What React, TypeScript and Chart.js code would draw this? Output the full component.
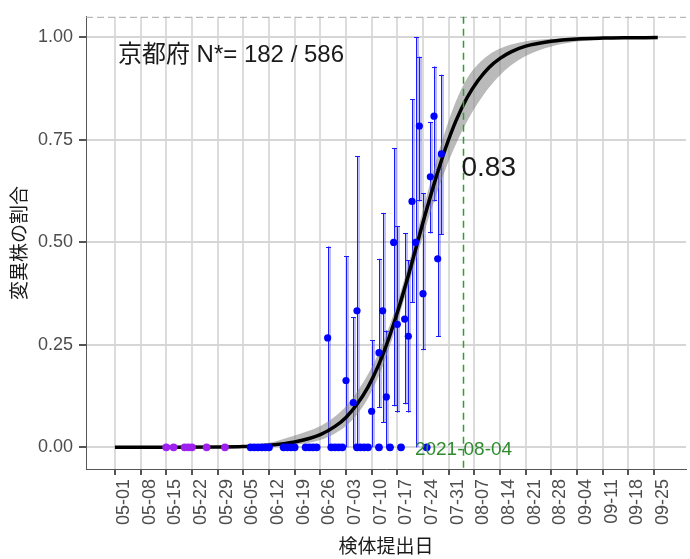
import React, { useEffect, useRef } from 'react';
import { Chart, registerables } from 'chart.js';
Chart.register(...registerables);

const FAMILY = "'Liberation Sans', Arial, 'Noto Sans CJK JP', sans-serif";

// x tick labels (weekly from 05-01, day index = position * 7)
const tickLabels = ['05-01','05-08','05-15','05-22','05-29','06-05','06-12','06-19','06-26','07-03','07-10','07-17','07-24','07-31','08-07','08-14','08-21','08-28','09-04','09-11','09-18','09-25'];
const yTicks = [0, 0.25, 0.5, 0.75, 1];
const yTickLabels = ['0.00', '0.25', '0.50', '0.75', '1.00'];

// fitted curve (days since 05-01) with confidence ribbon
const curveDays = [0,14,28,35,42,49,56,60,63,66,69,72,75,78,81,84,87,90,93,96,99,102,105,108,112,119,126,133,140,148];
const curveVals = [0,0.0001,0.0008,0.002,0.005,0.013,0.031,0.051,0.073,0.105,0.147,0.203,0.274,0.358,0.451,0.549,0.642,0.726,0.797,0.853,0.895,0.927,0.949,0.965,0.979,0.991,0.9965,0.9986,0.9994,0.9998];
const ciLow = [0,0,0.0002,0.0006,0.002,0.006,0.018,0.034,0.052,0.080,0.120,0.175,0.248,0.335,0.425,0.515,0.600,0.675,0.740,0.795,0.840,0.878,0.908,0.932,0.955,0.978,0.990,0.996,0.998,0.999];
const ciHigh = [0,0.0003,0.002,0.005,0.011,0.029,0.052,0.075,0.100,0.135,0.178,0.232,0.300,0.382,0.477,0.580,0.680,0.770,0.845,0.900,0.935,0.958,0.973,0.983,0.991,0.997,0.999,1,1,1];

// observed proportions with intervals
const obsDays = [58, 63, 65, 66, 70, 72, 73, 74, 76, 77, 79, 80, 81, 82, 83, 84, 86, 87, 88, 89];
const obsVals = [0.267, 0.163, 0.109, 0.333, 0.088, 0.231, 0.333, 0.123, 0.5, 0.3, 0.313, 0.271, 0.6, 0.5, 0.784, 0.375, 0.66, 0.808, 0.46, 0.716];
const obsLow = [0, 0, 0, 0, 0, 0.097, 0.06, 0, 0.1, 0.085, 0.105, 0.085, 0.353, 0, 0.6, 0.237, 0.522, 0.6, 0.269, 0.519];
const obsHigh = [0.49, 0.466, 0.317, 0.71, 0.261, 0.46, 0.572, 0.285, 0.73, 0.54, 0.523, 0.457, 0.85, 1.0, 0.953, 0.62, 0.794, 0.929, 0.68, 0.909];

// zero-proportion days
const zeroBlueDays = [37,38,39,40,41,42,46,47,48,49,52,53,54,55,59,60,61,62,66,67,68,69,72,75,78,85];
const zeroPurpleDays = [14,16,19,20,21,25,30];

const markerDay = 95;
const markerLabel = '2021-08-04';
const markerValue = '0.83';
const titleText = '京都府 N*= 182 / 586';

const errorBarPlugin = {
  id: 'errbars',
  beforeDatasetsDraw(chart: any) {
    const { ctx, scales: { x, y } } = chart;
    ctx.save();
    obsDays.forEach((d, i) => {
      const px = Math.round(x.getPixelForValue(d));
      const pl = y.getPixelForValue(obsLow[i]);
      const ph = y.getPixelForValue(obsHigh[i]);
      ctx.strokeStyle = 'rgba(40,40,255,0.3)';
      ctx.lineWidth = 3;
      ctx.beginPath();
      ctx.moveTo(px + 1.5, pl);
      ctx.lineTo(px + 1.5, ph);
      ctx.stroke();
      ctx.strokeStyle = '#1a1aff';
      ctx.lineWidth = 1;
      ctx.beginPath();
      ctx.moveTo(px + 0.5, pl);
      ctx.lineTo(px + 0.5, ph);
      ctx.moveTo(px - 2, Math.round(ph) + 0.5);
      ctx.lineTo(px + 3, Math.round(ph) + 0.5);
      if (obsLow[i] > 0) {
        ctx.moveTo(px - 2, Math.round(pl) - 0.5);
        ctx.lineTo(px + 3, Math.round(pl) - 0.5);
      }
      ctx.stroke();
    });
    ctx.restore();
  },
};

const annotPlugin = {
  id: 'annot',
  afterDatasetsDraw(chart: any) {
    const { ctx, chartArea: ca, scales: { x, y } } = chart;
    ctx.save();
    ctx.strokeStyle = '#a8a8a8';
    ctx.lineWidth = 1;
    ctx.setLineDash([7, 4]);
    ctx.beginPath();
    ctx.moveTo(ca.left, ca.top + 0.5);
    ctx.lineTo(ca.right, ca.top + 0.5);
    ctx.stroke();

    const gx = Math.round(x.getPixelForValue(markerDay)) + 0.5;
    ctx.strokeStyle = '#2f9e2f';
    ctx.lineWidth = 1.5;
    ctx.setLineDash([7, 5]);
    ctx.beginPath();
    ctx.moveTo(gx, ca.top);
    ctx.lineTo(gx, ca.bottom);
    ctx.stroke();
    ctx.setLineDash([]);

    ctx.fillStyle = '#1a1a1a';
    ctx.textAlign = 'left';
    ctx.textBaseline = 'middle';
    ctx.font = `24px ${FAMILY}`;
    ctx.fillText(titleText, x.getPixelForValue(0) + 3, y.getPixelForValue(0.957));

    ctx.font = `28px ${FAMILY}`;
    ctx.fillText(markerValue, gx - 2, y.getPixelForValue(0.68));

    ctx.fillStyle = '#2e8b2e';
    ctx.textAlign = 'center';
    ctx.font = `19px ${FAMILY}`;
    ctx.fillText(markerLabel, gx, y.getPixelForValue(-0.005));
    ctx.restore();
  },
};

export default function App() {
  const ref = useRef<HTMLCanvasElement | null>(null);
  useEffect(() => {
    if (!ref.current) return;
    const chart = new Chart(ref.current, {
      type: 'line',
      data: {
        datasets: [
          {
            type: 'scatter',
            data: obsDays.map((d, i) => ({ x: d, y: obsVals[i] })),
            backgroundColor: '#0000ff',
            borderWidth: 0,
            pointRadius: 3.6,
            order: 0,
          } as any,
          {
            type: 'scatter',
            data: zeroBlueDays.map((d) => ({ x: d, y: 0 })),
            backgroundColor: '#0000ff',
            borderWidth: 0,
            pointRadius: 3.9,
            order: 0,
          } as any,
          {
            type: 'scatter',
            data: zeroPurpleDays.map((d) => ({ x: d, y: 0 })),
            backgroundColor: '#a020f0',
            borderWidth: 0,
            pointRadius: 3.9,
            order: 0,
          } as any,
          {
            type: 'line',
            data: curveDays.map((d, i) => ({ x: d, y: curveVals[i] })),
            borderColor: '#000000',
            borderWidth: 3.5,
            pointRadius: 0,
            cubicInterpolationMode: 'monotone',
            fill: false,
            order: 1,
          } as any,
          {
            type: 'line',
            data: curveDays.map((d, i) => ({ x: d, y: ciHigh[i] })),
            borderWidth: 0,
            borderColor: 'rgba(0,0,0,0)',
            pointRadius: 0,
            cubicInterpolationMode: 'monotone',
            fill: '+1',
            backgroundColor: 'rgba(130,130,130,0.55)',
            order: 2,
          } as any,
          {
            type: 'line',
            data: curveDays.map((d, i) => ({ x: d, y: ciLow[i] })),
            borderWidth: 0,
            borderColor: 'rgba(0,0,0,0)',
            pointRadius: 0,
            cubicInterpolationMode: 'monotone',
            fill: false,
            order: 3,
          } as any,
        ],
      },
      options: {
        animation: false,
        responsive: false,
        devicePixelRatio: 1,
        layout: { padding: { top: 10, right: 2, left: 0, bottom: 0 } },
        plugins: { legend: { display: false }, tooltip: { enabled: false } },
        scales: {
          x: {
            type: 'linear',
            min: -7.88,
            max: 155.7,
            afterBuildTicks: (s: any) => {
              s.ticks = tickLabels.map((_, i) => ({ value: i * 7 }));
            },
            afterFit: (s: any) => {
              s.height = 90;
            },
            ticks: {
              autoSkip: false,
              maxRotation: 90,
              minRotation: 90,
              labelOffset: 9,
              padding: 4,
              color: '#4d4d4d',
              font: { size: 18, family: FAMILY },
              callback: (_v: any, i: number) => tickLabels[i],
            },
            grid: { color: '#dcdcdc', lineWidth: 2, tickColor: '#555', tickLength: 6 },
            border: { display: true, color: '#555', width: 1 },
            title: {
              display: true,
              text: '検体提出日',
              color: '#1a1a1a',
              font: { size: 19, family: FAMILY },
              padding: { top: 0, bottom: 0 },
            },
          },
          y: {
            type: 'linear',
            min: -0.0529,
            max: 1.0505,
            afterBuildTicks: (s: any) => {
              s.ticks = yTicks.map((v) => ({ value: v }));
            },
            afterFit: (s: any) => {
              s.width = 86;
            },
            ticks: {
              color: '#4d4d4d',
              padding: 6,
              font: { size: 18, family: FAMILY },
              callback: (_v: any, i: number) => yTickLabels[i],
            },
            grid: { color: '#d6d6d6', lineWidth: 2, tickColor: '#555', tickLength: 7 },
            border: { display: true, color: '#555', width: 1 },
            title: {
              display: true,
              text: '変異株の割合',
              color: '#1a1a1a',
              font: { size: 19, family: FAMILY },
              padding: { top: 9, bottom: 0 },
            },
          },
        },
      } as any,
      plugins: [errorBarPlugin, annotPlugin],
    });
    return () => chart.destroy();
  }, []);

  return (
    <div style={{ position: 'fixed', left: 0, top: 0, width: 690, height: 559, background: '#fff' }}>
      <canvas ref={ref} width={690} height={559} style={{ width: 690, height: 559, display: 'block' }} />
    </div>
  );
}
